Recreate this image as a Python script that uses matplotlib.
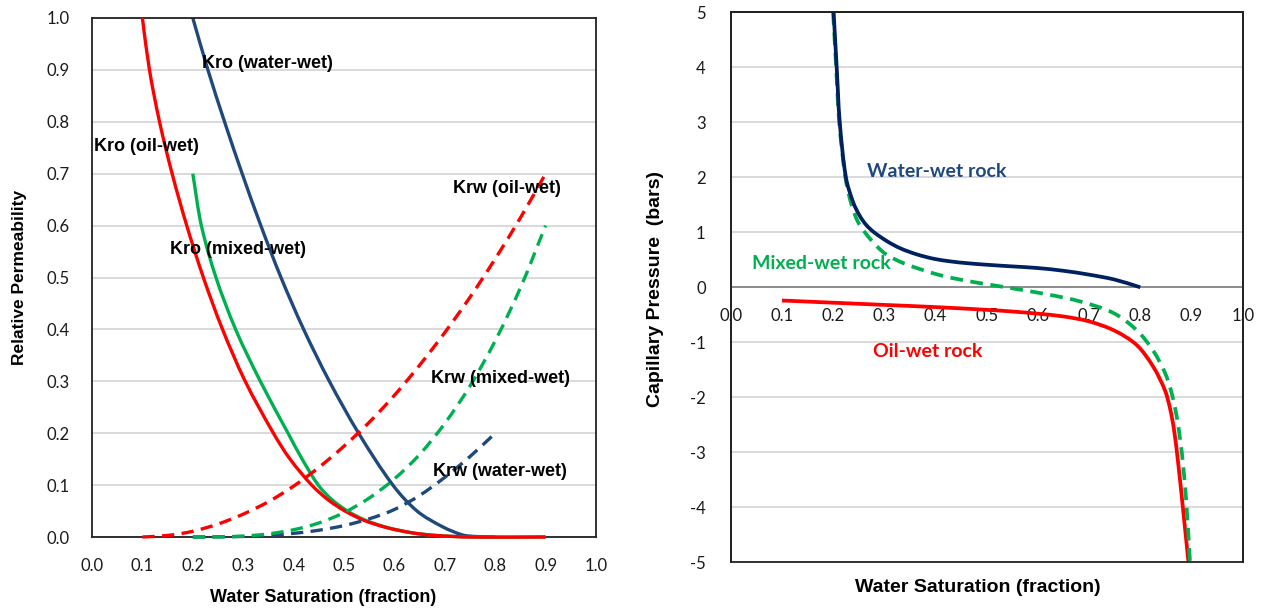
import numpy as np
import matplotlib.pyplot as plt
from matplotlib.patches import Rectangle, PathPatch
from matplotlib.path import Path

# Relative permeability curves (left chart)
sw_kro_ww = [0.20, 0.23, 0.263, 0.298, 0.335, 0.375, 0.42, 0.471, 0.529, 0.597, 0.645, 0.695, 0.735, 0.76, 0.80]
kro_ww = [1.00, 0.90, 0.80, 0.70, 0.60, 0.50, 0.40, 0.30, 0.20, 0.10, 0.05, 0.02, 0.004, 0.001, 0.0]

sw_kro_mw = [0.20, 0.217, 0.246, 0.285, 0.334, 0.389, 0.417, 0.449, 0.476, 0.507, 0.543, 0.587, 0.636, 0.683, 0.75, 0.90]
kro_mw = [0.70, 0.60, 0.50, 0.40, 0.30, 0.20, 0.15, 0.10, 0.072, 0.05, 0.032, 0.018, 0.008, 0.003, 0.0, 0.0]

sw_kro_ow = [0.10, 0.114, 0.134, 0.159, 0.188, 0.221, 0.259, 0.304, 0.360, 0.393, 0.436, 0.468, 0.502, 0.54,
             0.585, 0.635, 0.68, 0.75, 0.90]
kro_ow = [1.00, 0.90, 0.80, 0.70, 0.60, 0.50, 0.40, 0.30, 0.20, 0.15, 0.10, 0.072, 0.05, 0.032,
          0.018, 0.008, 0.003, 0.0, 0.0]

sw_krw_ww = [0.20, 0.30, 0.35, 0.40, 0.45, 0.50, 0.55, 0.60, 0.65, 0.70, 0.75, 0.80]
krw_ww = [0.0, 0.001, 0.003, 0.007, 0.013, 0.022, 0.035, 0.053, 0.08, 0.115, 0.155, 0.20]

sw_krw_mw = [0.20, 0.25, 0.30, 0.35, 0.40, 0.45, 0.50, 0.55, 0.60, 0.65, 0.70, 0.75, 0.80, 0.85, 0.90]
krw_mw = [0.0, 0.0002, 0.0017, 0.006, 0.014, 0.027, 0.047, 0.075, 0.112, 0.159, 0.219, 0.291, 0.378, 0.48, 0.60]

sw_krw_ow = [0.10, 0.15, 0.20, 0.25, 0.30, 0.35, 0.40, 0.45, 0.50, 0.55, 0.60, 0.65, 0.70, 0.75, 0.80, 0.85, 0.90]
krw_ow = [0.0, 0.003, 0.011, 0.025, 0.044, 0.068, 0.098, 0.134, 0.175, 0.221, 0.273, 0.331, 0.394, 0.462, 0.536, 0.615, 0.70]

# Capillary pressure curves (right chart), bars
sw_pc_ww = [0.201, 0.207, 0.213, 0.225, 0.239, 0.252, 0.265, 0.28, 0.305, 0.331, 0.363, 0.396, 0.43, 0.46,
            0.50, 0.55, 0.60, 0.65, 0.70, 0.75, 0.80]
pc_ww = [5.0, 4.0, 3.0, 2.0, 1.55, 1.3, 1.13, 1.0, 0.84, 0.71, 0.60, 0.52, 0.47, 0.44,
         0.41, 0.38, 0.35, 0.30, 0.23, 0.14, 0.0]

sw_pc_mw = [0.200, 0.206, 0.212, 0.224, 0.236, 0.248, 0.262, 0.285, 0.305, 0.337, 0.370, 0.409, 0.454, 0.50,
            0.55, 0.617, 0.682, 0.747, 0.793, 0.825, 0.848, 0.862, 0.872, 0.881, 0.889, 0.897]
pc_mw = [5.0, 4.0, 3.0, 2.0, 1.5, 1.2, 1.0, 0.75, 0.59, 0.44, 0.33, 0.22, 0.13, 0.056,
         -0.019, -0.126, -0.256, -0.465, -0.78, -1.15, -1.55, -1.95, -2.4, -3.0, -3.8, -4.99]

sw_pc_ow = [0.10, 0.20, 0.30, 0.40, 0.50, 0.55, 0.60, 0.65, 0.70, 0.75, 0.793, 0.825, 0.848, 0.858, 0.866,
            0.874, 0.883, 0.894]
pc_ow = [-0.24, -0.28, -0.32, -0.36, -0.41, -0.44, -0.48, -0.53, -0.62, -0.79, -1.05, -1.44, -1.87, -2.2, -2.6,
         -3.2, -3.99, -4.99]

sw_ticks = [0.0, 0.1, 0.2, 0.3, 0.4, 0.5, 0.6, 0.7, 0.8, 0.9, 1.0]
kr_ticks = [0.0, 0.1, 0.2, 0.3, 0.4, 0.5, 0.6, 0.7, 0.8, 0.9, 1.0]
pc_ticks = [-5, -4, -3, -2, -1, 0, 1, 2, 3, 4, 5]

RED = "#FF0000"
GREEN = "#00B050"
BLUE = "#1F497D"
NAVY = "#002060"
GRID = "#D9D9D9"
TICK = "#1A1A1A"

W, H = 1266, 609
fig = plt.figure(figsize=(W / 100, H / 100), dpi=100)
bold = dict(family="Liberation Sans", weight="bold")


def smooth_line(ax, xs, ys, dashes=None, **kw):
    """Smoothed line like a spreadsheet chart: cubic Bezier pieces through every point."""
    pts = np.column_stack([xs, ys]).astype(float)
    pix = ax.transData.transform(pts)
    seg = np.hypot(*np.diff(pix, axis=0).T)
    tang = np.zeros_like(pts)
    tang[0] = (pts[1] - pts[0]) / seg[0]
    tang[-1] = (pts[-1] - pts[-2]) / seg[-1]
    for i in range(1, len(pts) - 1):
        tang[i] = (pts[i + 1] - pts[i - 1]) / (seg[i - 1] + seg[i])
    verts = [pts[0]]
    codes = [Path.MOVETO]
    for i in range(len(pts) - 1):
        verts += [pts[i] + tang[i] * seg[i] / 3, pts[i + 1] - tang[i + 1] * seg[i] / 3, pts[i + 1]]
        codes += [Path.CURVE4] * 3
    ls = (0, dashes) if dashes else "solid"
    ax.add_patch(PathPatch(Path(verts, codes), fill=False, linestyle=ls, capstyle="butt", **kw))


def style_ticks(ax):
    ax.tick_params(length=0, labelsize=12, labelcolor=TICK, labelfontfamily="Lato")


# ---------------- left: relative permeability ----------------
ax1 = fig.add_axes([92 / W, 72 / H, 504 / W, 519 / H])
ax1.set_xlim(0, 1)
ax1.set_ylim(0, 1)
ax1.set_xticks(sw_ticks)
ax1.set_xticklabels([f"{v:.1f}" for v in sw_ticks])
ax1.set_yticks(kr_ticks)
ax1.set_yticklabels([f"{v:.1f}" for v in kr_ticks])
style_ticks(ax1)
ax1.tick_params(axis="x", pad=15)
ax1.tick_params(axis="y", pad=16)
ax1.yaxis.grid(True, color=GRID, lw=1.4)
ax1.set_axisbelow(True)
for s in ax1.spines.values():
    s.set_color("#222222")
    s.set_linewidth(1.3)

lw = 2.4
dash = (3.7, 2.2)
smooth_line(ax1, sw_kro_ww, kro_ww, edgecolor=BLUE, lw=lw, zorder=2, clip_on=False)
smooth_line(ax1, sw_kro_mw, kro_mw, edgecolor=GREEN, lw=lw, zorder=3, clip_on=False)
smooth_line(ax1, sw_kro_ow, kro_ow, edgecolor=RED, lw=lw, zorder=4, clip_on=False)
smooth_line(ax1, sw_krw_ww, krw_ww, dashes=dash, edgecolor=BLUE, lw=lw, zorder=5, clip_on=False)
smooth_line(ax1, sw_krw_mw, krw_mw, dashes=dash, edgecolor=GREEN, lw=lw, zorder=5, clip_on=False)
smooth_line(ax1, sw_krw_ow, krw_ow, dashes=dash, edgecolor=RED, lw=lw, zorder=6, clip_on=False)

labels_left = [
    ("Kro (water-wet)", 0.218, 0.913),
    ("Kro (oil-wet)", 0.003, 0.752),
    ("Kro (mixed-wet)", 0.155, 0.554),
    ("Krw (oil-wet)", 0.716, 0.672),
    ("Krw (mixed-wet)", 0.672, 0.306),
    ("Krw (water-wet)", 0.676, 0.126),
]
for txt, x, y in labels_left:
    ax1.text(x, y, txt, ha="left", va="center", fontsize=13, color="black", zorder=10, **bold)

# ---------------- right: capillary pressure ----------------
ax2 = fig.add_axes([730.7 / W, 46.7 / H, 512 / W, 550 / H])
ax2.set_xlim(0, 1)
ax2.set_ylim(-5, 5)

# x axis crosses at Pc = 0, plot area keeps a full border
ax2.spines["bottom"].set_position(("data", 0))
ax2.spines["bottom"].set_color("#868686")
ax2.spines["bottom"].set_linewidth(1.3)
for side in ("left", "top", "right"):
    ax2.spines[side].set_color("#222222")
    ax2.spines[side].set_linewidth(1.3)
ax2.add_patch(Rectangle((0, 0), 1, 1, transform=ax2.transAxes, fill=False,
                        ec="#222222", lw=1.3, zorder=6, clip_on=False))

ax2.set_xticks(sw_ticks)
ax2.set_xticklabels([f"{v:.1f}" for v in sw_ticks])
ax2.set_yticks(pc_ticks)
ax2.set_yticklabels([f"{v:d}" for v in pc_ticks])
style_ticks(ax2)
ax2.tick_params(axis="x", pad=15)
ax2.tick_params(axis="y", pad=18)
ax2.yaxis.grid(True, color=GRID, lw=1.4)
ax2.set_axisbelow(True)

lw2 = 2.7
smooth_line(ax2, sw_pc_ow, pc_ow, edgecolor=RED, lw=lw2, zorder=3)
smooth_line(ax2, sw_pc_mw, pc_mw, dashes=(3.4, 2.0), edgecolor=GREEN, lw=lw2, zorder=4)
smooth_line(ax2, sw_pc_ww, pc_ww, edgecolor=NAVY, lw=lw2, zorder=5)

rock = dict(family="Lato", weight="bold", size=14)
ax2.text(0.266, 2.10, "Water-wet rock", color=BLUE, ha="left", va="center", zorder=10, **rock)
ax2.text(0.041, 0.44, "Mixed-wet rock", color=GREEN, ha="left", va="center", zorder=10, **rock)
ax2.text(0.277, -1.17, "Oil-wet rock", color=RED, ha="left", va="center", zorder=10, **rock)

# axis titles
fig.text(20 / W, 1 - 277 / H, "Relative Permeability", rotation=90, ha="center", va="center",
         fontsize=12.5, **bold)
fig.text(323 / W, 1 - 598 / H, "Water Saturation (fraction)", ha="center", va="center",
         fontsize=13, **bold)
fig.text(655 / W, 1 - 289 / H, "Capillary Pressure  (bars)", rotation=90, ha="center", va="center",
         fontsize=14, **bold)
fig.text(978 / W, 1 - 587 / H, "Water Saturation (fraction)", ha="center", va="center",
         fontsize=14, **bold)

fig.savefig("out.png", dpi=100, facecolor="white")
